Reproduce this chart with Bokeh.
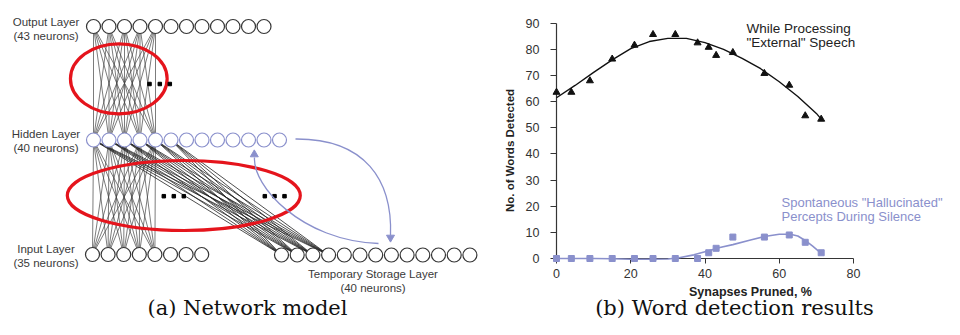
import math
from bokeh.plotting import figure
from bokeh.layouts import row
from bokeh.models import Range1d, FixedTicker
from bokeh.core.properties import value
from bokeh.embed import file_html
from bokeh.resources import INLINE

# ---------------- data: panel (b) ----------------
ext_x = [0, 4, 9, 15, 21, 26, 32, 38, 41, 43, 47.5, 56, 62.7, 67, 71.3]
ext_y = [63.6, 63.6, 68.0, 76.3, 81.6, 85.7, 85.7, 82.5, 80.8, 77.7, 78.8, 70.8, 66.3, 54.6, 53.3]
ext_fit_x = [0, 5, 10, 15, 20, 25, 30, 35, 40, 45, 50, 55, 60, 65, 70, 71.3]
ext_fit_y = [61.5, 66.2, 71.2, 76.0, 80.3, 83.0, 84.2, 84.2, 82.6, 80.0, 76.6, 72.6, 67.6, 62.0, 55.5, 53.3]
hal_x = [0, 4, 9, 15, 21, 26, 32, 38, 41, 43, 47.5, 56, 62.7, 67, 71.3]
hal_y = [0, 0, 0, 0, 0, 0, 0, 0, 2.2, 3.9, 8.2, 8.2, 9.0, 6.2, 2.2]
hal_fit_x = [0, 5, 10, 15, 20, 25, 30, 33, 37, 41, 44, 47.5, 52, 56, 60, 63, 65, 67, 69, 71.3]
hal_fit_y = [0, 0, 0, -0.1, -0.3, -0.3, -0.2, 0.3, 1.4, 3.0, 4.2, 5.3, 7.0, 8.4, 9.3, 9.3, 8.6, 6.9, 4.7, 2.0]
y_ticks = [0, 10, 20, 30, 40, 50, 60, 70, 80, 90]
x_ticks = [0, 20, 40, 60, 80]
ext_label = ["While Processing", "\"External\" Speech"]
hal_label = ["Spontaneous \"Hallucinated\"", "Percepts During Silence"]
x_title = "Synapses Pruned, %"
y_title = "No. of Words Detected"

# ---------------- data: panel (a) ----------------
layer_names = ["Output Layer", "Hidden Layer", "Input Layer", "Temporary Storage Layer"]
layer_sizes = ["(43 neurons)", "(40 neurons)", "(35 neurons)", "(40 neurons)"]
drawn_counts = [12, 13, 8, 13]
captions = ["(a) Network model", "(b) Word detection results"]

DARK = "#353535"
LAV = "#8a90cc"
SANS = value("Liberation Sans")
SERIF = value("DejaVu Serif")
OV = "overlay"
SHIFT = 0.38   # baseline correction (in em) for alphabetic text placement

H = 319
TOP, BOTTOM = 4, 258          # frame top / bottom (page px) shared by both panels

# ================= panel (a): network diagram =================
pa = figure(width=480, height=H, x_range=Range1d(0, 480), y_range=Range1d(BOTTOM, TOP),
            x_axis_type=None, y_axis_type=None, output_backend="svg",
            toolbar_location=None, min_border_left=0, min_border_right=0,
            min_border_top=TOP, min_border_bottom=H - BOTTOM)
pa.outline_line_color = None


def row_x(n, x0, step):
    return [x0 + i * step for i in range(n)]


out_x = row_x(drawn_counts[0], 93, 15.5)
hid_x = row_x(drawn_counts[1], 93, 15.5)
inp_x = row_x(drawn_counts[2], 92, 15.6)
sto_x = row_x(drawn_counts[3], 281, 15.7)
out_y, hid_y, inp_y, sto_y = 26, 139.5, 254, 254.5

# connections
x0s, y0s, x1s, y1s = [], [], [], []
for i in range(5):
    for j in range(5):
        x0s.append(out_x[i]); y0s.append(out_y); x1s.append(hid_x[j]); y1s.append(hid_y)
        x0s.append(hid_x[i]); y0s.append(hid_y); x1s.append(inp_x[j]); y1s.append(inp_y)
pa.segment(x0s, y0s, x1s, y1s, line_color="#444444", line_width=0.7, level=OV)

bx0, by0, bx1, by1 = [], [], [], []
for i in range(6):
    for j in range(4):
        bx0.append(hid_x[i]); by0.append(hid_y); bx1.append(sto_x[j]); by1.append(sto_y)
pa.segment(bx0, by0, bx1, by1, line_color="#222222", line_width=0.8, level=OV)

# neurons
pa.circle(out_x, [out_y] * len(out_x), radius=7, fill_color="white", line_color=DARK, line_width=1.2, level=OV)
pa.circle(hid_x, [hid_y] * len(hid_x), radius=7, fill_color="white", line_color=LAV, line_width=1.2, level=OV)
pa.circle(inp_x, [inp_y] * len(inp_x), radius=7, fill_color="white", line_color=DARK, line_width=1.2, level=OV)
pa.circle(sto_x, [sto_y] * len(sto_x), radius=7, fill_color="white", line_color=DARK, line_width=1.2, level=OV)

# red ellipses
pa.ellipse([118.3, 183.3], [78.3, 195], width=[96.7, 233], height=[70, 70],
           fill_color=None, line_color="#e5141c", line_width=3.2, level=OV)

# ellipsis dots
pa.scatter([149, 159.3, 169.3], [83.5] * 3, marker="square", size=3.5, color="black", level=OV)
pa.scatter([163.3, 173.3, 183.3, 264.3, 274, 284], [195.7] * 6, marker="square", size=3.5,
           color="black", level=OV)

# blue curved arrows
pa.bezier(x0=[295, 378], y0=[138.5, 243], x1=[390, 254], y1=[235, 157],
          cx0=[365, 300], cy0=[138, 240], cx1=[392, 252], cy1=[180, 185],
          line_color=LAV, line_width=1.3, level=OV)
pa.scatter([390], [237], marker="inverted_triangle", size=8, color=LAV, level=OV)
pa.scatter([253.8], [154], marker="triangle", size=8, color=LAV, level=OV)

# layer labels
LS = 11.5
lab_x = [45.5, 45.5, 45.5, 372.5]
lab_y1 = [b - SHIFT * LS for b in (25.5, 137.5, 253, 278)]
lab_y2 = [b - SHIFT * LS for b in (39.5, 151.5, 267, 292)]
pa.text(lab_x, lab_y1, text=layer_names, text_align="center", text_baseline="alphabetic",
        text_font=SANS, text_font_size=f"{LS}px", text_color="#3a3a3a", level=OV)
pa.text(lab_x, lab_y2, text=layer_sizes, text_align="center", text_baseline="alphabetic",
        text_font=SANS, text_font_size=f"{LS}px", text_color="#3a3a3a", level=OV)

# caption (a)
CS = 21
CAP_BASE = 315 - SHIFT * CS
pa.text([247], [CAP_BASE], text=[captions[0]], text_align="center", text_baseline="alphabetic",
        text_font=SERIF, text_font_size=f"{CS}px", text_color="#111111", level=OV)

# ================= panel (b): chart =================
XS, YS = 3.7125, 2.614
X0 = 556
pb = figure(width=464, height=H,
            x_range=Range1d(0, (944 - X0) / XS), y_range=Range1d(0, (BOTTOM - TOP) / YS),
            output_backend="svg", toolbar_location=None,
            min_border_left=X0 - 480, min_border_right=0,
            min_border_top=TOP, min_border_bottom=H - BOTTOM)
pb.outline_line_color = None
pb.grid.visible = False
pb.xaxis.bounds = (0, 80)
pb.yaxis.bounds = (0, 90)
pb.xaxis.ticker = FixedTicker(ticks=x_ticks)
pb.yaxis.ticker = FixedTicker(ticks=y_ticks)
for ax in (pb.xaxis, pb.yaxis):
    ax.axis_line_color = DARK
    ax.axis_line_width = 1.2
    ax.major_tick_line_color = DARK
    ax.major_tick_in = 0
    ax.minor_tick_line_color = None
    ax.major_label_text_font = "Liberation Sans"
    ax.major_label_text_font_size = "12.5px"
    ax.major_label_text_color = "#333333"
pb.xaxis.major_tick_out = 5
pb.yaxis.major_tick_out = 6
pb.xaxis.major_label_standoff = 5
pb.yaxis.major_label_standoff = 11
pb.xaxis.axis_label = x_title
pb.xaxis.axis_label_text_font = "Liberation Sans"
pb.xaxis.axis_label_text_font_style = "bold"
pb.xaxis.axis_label_text_color = "#222222"
pb.xaxis.axis_label_text_font_size = "12.5px"
pb.xaxis.axis_label_standoff = 4


def py(page_y):
    return (BOTTOM - page_y) / YS


# y-axis title placed beside the axis
pb.text([(509 - X0) / XS], [py(150)], text=[y_title], angle=math.pi / 2,
        text_align="center", text_baseline="middle", text_font=SANS, text_font_style="bold",
        text_font_size="11.5px", text_color="#222222", level=OV)

pb.line(ext_fit_x, ext_fit_y, line_color="#111111", line_width=1.4, level=OV)
pb.scatter(ext_x, ext_y, marker="triangle", size=7, color="#111111", level=OV)
pb.line(hal_fit_x, hal_fit_y, line_color=LAV, line_width=1.6, level=OV)
pb.scatter(hal_x, hal_y, marker="square", size=6, color=LAV, level=OV)

AS = 13.5
pb.text([(746 - X0) / XS] * 2, [py(33 - SHIFT * AS), py(47 - SHIFT * AS)], text=ext_label,
        text_baseline="alphabetic", text_font=SANS, text_font_size=f"{AS}px",
        text_color="#222222", level=OV)
BS = 13
pb.text([(781 - X0) / XS] * 2, [py(206.5 - SHIFT * BS), py(220.5 - SHIFT * BS)], text=hal_label,
        text_baseline="alphabetic", text_font=SANS, text_font_size=f"{BS}px",
        text_color=LAV, level=OV)

# caption (b)
pb.text([(734 - X0) / XS], [py(CAP_BASE)], text=[captions[1]], text_align="center",
        text_baseline="alphabetic", text_font=SERIF, text_font_size=f"{CS}px",
        text_color="#111111", level=OV)

layout = row(pa, pb, spacing=0)
open("out.html", "w").write(file_html(layout, INLINE))
